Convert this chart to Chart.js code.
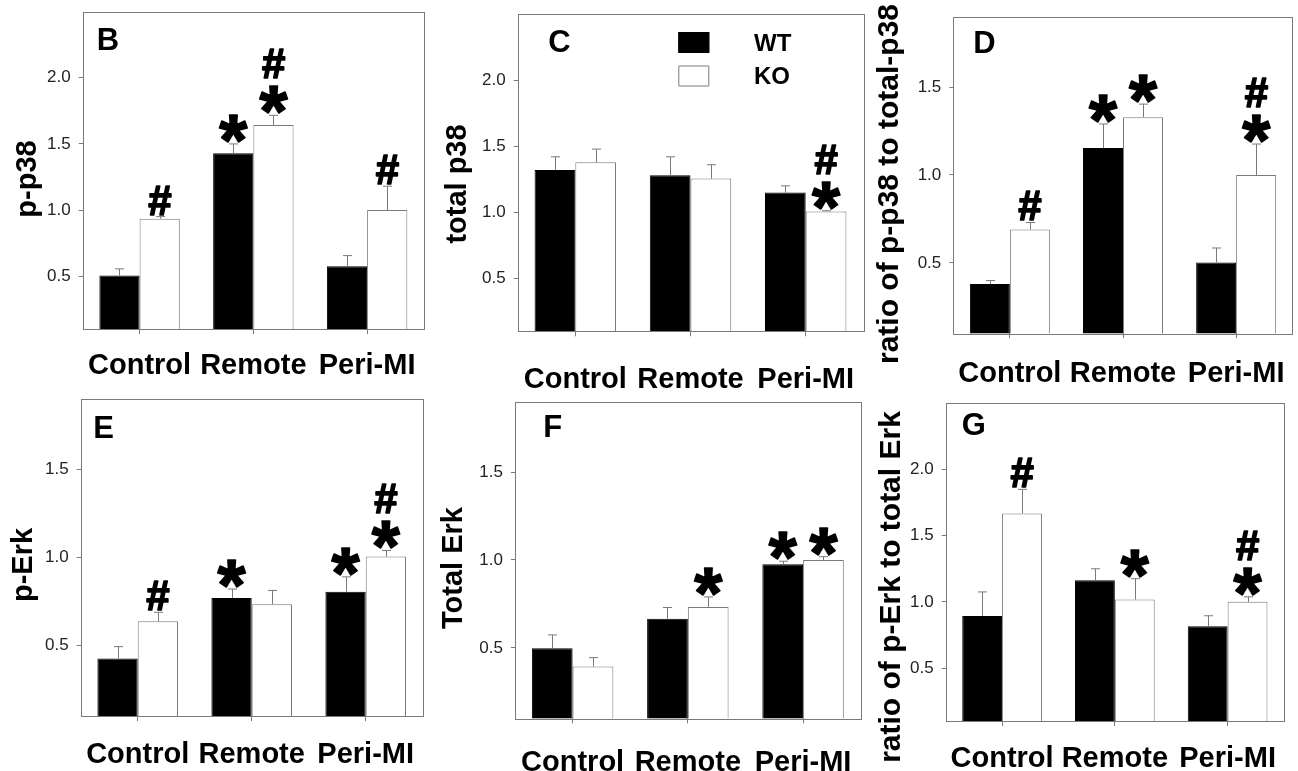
<!DOCTYPE html>
<html>
<head>
<meta charset="utf-8">
<script src="https://cdn.jsdelivr.net/npm/chart.js@4.4.1/dist/chart.umd.min.js"></script>
<style>
  html, body { margin: 0; padding: 0; background: #fff; }
  body { width: 1298px; height: 771px; position: relative; overflow: hidden; }
  canvas { position: absolute; }
</style>
</head>
<body>
<canvas id="cB" width="430" height="400" style="left:0;top:0"></canvas>
<canvas id="cC" width="436" height="400" style="left:430px;top:0"></canvas>
<canvas id="cD" width="432" height="400" style="left:866px;top:0"></canvas>
<canvas id="cE" width="430" height="391" style="left:0;top:380px"></canvas>
<canvas id="cF" width="436" height="391" style="left:430px;top:380px"></canvas>
<canvas id="cG" width="432" height="391" style="left:866px;top:380px"></canvas>
<script>
// ---- datos ----
const categorias = ['Control', 'Remote', 'Peri-MI'];
const grupos = ['WT', 'KO'];

const ticksAltos = [0.5, 1.0, 1.5, 2.0];   // B, C, G
const ticksBajos = [0.5, 1.0, 1.5];        // D, E, F

// B: p-p38
const pp38WT = [0.505, 1.43, 0.575];
const pp38WTErr = [0.05, 0.07, 0.08];
const pp38KO = [0.934, 1.643, 1.0];
const pp38KOErr = [0.016, 0.073, 0.18];
const pp38WTMarcas = ['', '*', ''];
const pp38KOMarcas = ['#', '*#', '#'];

// C: total p38
const tp38WT = [1.32, 1.28, 1.15];
const tp38WTErr = [0.10, 0.14, 0.05];
const tp38KO = [1.378, 1.255, 1.007];
const tp38KOErr = [0.10, 0.105, 0.005];
const tp38WTMarcas = ['', '', ''];
const tp38KOMarcas = ['', '', '*#'];

// D: ratio p-p38 / total-p38
const rp38WT = [0.38, 1.153, 0.502];
const rp38WTErr = [0.02, 0.137, 0.083];
const rp38KO = [0.69, 1.329, 1.0];
const rp38KOErr = [0.04, 0.074, 0.176];
const rp38WTMarcas = ['', '*', ''];
const rp38KOMarcas = ['#', '*', '*#'];

// E: p-Erk
const perkWT = [0.426, 0.770, 0.805];
const perkWTErr = [0.068, 0.051, 0.085];
const perkKO = [0.638, 0.734, 1.005];
const perkKOErr = [0.051, 0.079, 0.035];
const perkWTMarcas = ['', '*', '*'];
const perkKOMarcas = ['#', '', '*#'];

// F: Total Erk
const terkWT = [0.498, 0.666, 0.976];
const terkWTErr = [0.076, 0.064, 0.017];
const terkKO = [0.394, 0.733, 1.0];
const terkKOErr = [0.051, 0.057, 0.019];
const terkWTMarcas = ['', '', '*'];
const terkKOMarcas = ['', '*', '*'];

// G: ratio p-Erk / total Erk
const rerkWT = [0.894, 1.163, 0.816];
const rerkWTErr = [0.181, 0.087, 0.079];
const rerkKO = [1.668, 1.017, 1.0];
const rerkKOErr = [0.182, 0.158, 0.038];
const rerkWTMarcas = ['', '', ''];
const rerkKOMarcas = ['#', '*', '*#'];

// ---- estilos ----
const FUENTE = '"Liberation Sans", Arial, Helvetica, sans-serif';
const GRIS = '#7a7a7a';
const TAM_ASTERISCO = 72;
const TAM_NUMERAL = 42;
const ANCHO_Y = 50;

// Dibuja caja, barras de error, asteriscos/numerales, letra, título Y y leyenda.
const extrasPanel = {
  id: 'extrasPanel',
  afterDatasetsDraw(chart) {
    const ctx = chart.ctx;
    const y = chart.scales.y;
    ctx.save();
    ctx.strokeStyle = GRIS;
    ctx.lineWidth = 1;
    chart.data.datasets.forEach((ds, i) => {
      chart.getDatasetMeta(i).data.forEach((barra, j) => {
        const x = Math.round(barra.x) + 0.5;
        const arriba = y.getPixelForValue(ds.data[j] + ds.errores[j]);
        ctx.beginPath();
        ctx.moveTo(x, barra.y);
        ctx.lineTo(x, arriba);
        ctx.moveTo(x - 4.5, arriba);
        ctx.lineTo(x + 4.5, arriba);
        ctx.stroke();
      });
    });
    ctx.restore();
  },
  afterDraw(chart, args, op) {
    const ctx = chart.ctx;
    const a = chart.chartArea;
    const y = chart.scales.y;
    ctx.save();
    ctx.strokeStyle = GRIS;
    ctx.lineWidth = 1;
    ctx.strokeRect(Math.round(a.left) + 0.5, Math.round(a.top) + 0.5,
      Math.round(a.right - a.left), Math.round(a.bottom - a.top));

    // marcas de significancia, apiladas de abajo hacia arriba
    ctx.fillStyle = '#000';
    ctx.strokeStyle = '#000';
    ctx.lineWidth = 1.6;
    ctx.lineJoin = 'round';
    ctx.textAlign = 'left';
    ctx.textBaseline = 'alphabetic';
    chart.data.datasets.forEach((ds, i) => {
      chart.getDatasetMeta(i).data.forEach((barra, j) => {
        let base = y.getPixelForValue(ds.data[j] + ds.errores[j]) - 2;
        for (const s of ds.marcas[j].split('')) {
          ctx.font = `bold ${s === '*' ? TAM_ASTERISCO : TAM_NUMERAL}px ${FUENTE}`;
          const m = ctx.measureText(s);
          const anchoG = m.actualBoundingBoxRight + m.actualBoundingBoxLeft;
          const x0 = barra.x - anchoG / 2 + m.actualBoundingBoxLeft;
          const linea = base - m.actualBoundingBoxDescent;
          ctx.fillText(s, x0, linea);
          ctx.strokeText(s, x0, linea);
          base = linea - m.actualBoundingBoxAscent - 8;
        }
      });
    });

    // letra del panel
    ctx.font = `bold 31px ${FUENTE}`;
    ctx.fillText(op.letra.texto, op.letra.x, op.letra.y);

    // título del eje Y
    ctx.save();
    ctx.translate(op.tituloY.x, op.tituloY.y);
    ctx.rotate(-Math.PI / 2);
    ctx.textAlign = 'center';
    ctx.textBaseline = 'middle';
    ctx.font = `bold ${op.tituloY.tam || 29}px ${FUENTE}`;
    ctx.fillText(op.tituloY.texto, 0, 0);
    ctx.restore();

    // leyenda (solo en C)
    if (op.leyenda) {
      const L = op.leyenda;
      chart.data.datasets.forEach((ds, i) => {
        const top = L.y + i * L.paso;
        ctx.fillStyle = ds.backgroundColor;
        ctx.fillRect(L.x, top, 31, 21);
        ctx.lineWidth = 1;
        ctx.strokeStyle = i === 0 ? '#000' : GRIS;
        ctx.strokeRect(L.x + 0.5, top + 0.5, 30, 20);
        ctx.fillStyle = '#000';
        ctx.font = `bold 24px ${FUENTE}`;
        ctx.textBaseline = 'middle';
        ctx.fillText(ds.label, L.xTexto, top + 12);
      });
    }
    ctx.restore();
  }
};

function armarPanel(id, cfg) {
  const c = document.getElementById(id);
  const W = c.width, H = c.height;
  const r = cfg.area;
  const altoX = H - r.b;   // el eje X llega hasta el borde del canvas (las etiquetas se recortan a su caja)
  return new Chart(c, {
    type: 'bar',
    data: {
      labels: categorias,
      datasets: [
        { label: grupos[0], data: cfg.wt, errores: cfg.wtErr, marcas: cfg.wtMarcas,
          backgroundColor: '#000', borderColor: '#000', borderWidth: 1 },
        { label: grupos[1], data: cfg.ko, errores: cfg.koErr, marcas: cfg.koMarcas,
          backgroundColor: '#fff', borderColor: GRIS, borderWidth: 1 }
      ]
    },
    options: {
      responsive: false,
      devicePixelRatio: 1,
      animation: false,
      categoryPercentage: 0.707,
      barPercentage: 1.0,
      layout: { padding: { left: r.l - ANCHO_Y, top: r.t, right: W - r.r, bottom: 0 } },
      plugins: {
        legend: { display: false },
        tooltip: { enabled: false },
        extrasPanel: { letra: cfg.letra, tituloY: cfg.tituloY, leyenda: cfg.leyenda }
      },
      scales: {
        x: {
          offset: true,
          border: { display: false },
          grid: { offset: false, drawOnChartArea: false, tickLength: 5, color: GRIS },
          ticks: { color: '#000', padding: cfg.padX, maxRotation: 0, autoSkip: false,
                   font: { family: FUENTE, size: 29, weight: 'bold' } },
          afterFit: s => { s.height = altoX; s.paddingLeft = 0; s.paddingRight = 0; }
        },
        y: {
          min: cfg.min, max: cfg.max,
          border: { display: false },
          grid: { drawOnChartArea: false, tickLength: 4, color: GRIS },
          ticks: { color: '#222', padding: 8, font: { family: FUENTE, size: 17 },
                   callback: v => v.toFixed(1) },
          afterBuildTicks: s => { s.ticks = cfg.ticks.map(v => ({ value: v })); },
          afterFit: s => { s.width = ANCHO_Y; s.paddingTop = 0; s.paddingBottom = 0; }
        }
      }
    },
    plugins: [extrasPanel]
  });
}

armarPanel('cB', {
  wt: pp38WT, wtErr: pp38WTErr, wtMarcas: pp38WTMarcas,
  ko: pp38KO, koErr: pp38KOErr, koMarcas: pp38KOMarcas,
  min: 0.1, max: 2.5, ticks: ticksAltos, padX: 15,
  area: { l: 82.7, t: 11.7, r: 424, b: 329 },
  letra: { texto: 'B', x: 96.7, y: 50 },
  tituloY: { texto: 'p-p38', x: 28, y: 179 }
});
armarPanel('cC', {
  wt: tp38WT, wtErr: tp38WTErr, wtMarcas: tp38WTMarcas,
  ko: tp38KO, koErr: tp38KOErr, koMarcas: tp38KOMarcas,
  min: 0.1, max: 2.5, ticks: ticksAltos, padX: 26,
  area: { l: 87.7, t: 14, r: 433.3, b: 331.3 },
  letra: { texto: 'C', x: 118.3, y: 51.7 },
  tituloY: { texto: 'total p38', x: 27.5, y: 184 },
  leyenda: { x: 248.3, y: 32, paso: 33.5, xTexto: 324 }
});
armarPanel('cD', {
  wt: rp38WT, wtErr: rp38WTErr, wtMarcas: rp38WTMarcas,
  ko: rp38KO, koErr: rp38KOErr, koMarcas: rp38KOMarcas,
  min: 0.1, max: 1.9, ticks: ticksBajos, padX: 18,
  area: { l: 87.3, t: 16.7, r: 426.7, b: 333.3 },
  letra: { texto: 'D', x: 107.3, y: 53.3 },
  tituloY: { texto: 'ratio of p-p38 to total-p38', x: 24, y: 184, tam: 30 }
});
armarPanel('cE', {
  wt: perkWT, wtErr: perkWTErr, wtMarcas: perkWTMarcas,
  ko: perkKO, koErr: perkKOErr, koMarcas: perkKOMarcas,
  min: 0.1, max: 1.9, ticks: ticksBajos, padX: 17,
  area: { l: 80.7, t: 19, r: 422.7, b: 336 },
  letra: { texto: 'E', x: 93.3, y: 58.3 },
  tituloY: { texto: 'p-Erk', x: 24, y: 185 }
});
armarPanel('cF', {
  wt: terkWT, wtErr: terkWTErr, wtMarcas: terkWTMarcas,
  ko: terkKO, koErr: terkKOErr, koMarcas: terkKOMarcas,
  min: 0.1, max: 1.9, ticks: ticksBajos, padX: 22,
  area: { l: 85, t: 21.7, r: 430.7, b: 338.3 },
  letra: { texto: 'F', x: 113.3, y: 56.7 },
  tituloY: { texto: 'Total Erk', x: 24, y: 188 }
});
armarPanel('cG', {
  wt: rerkWT, wtErr: rerkWTErr, wtMarcas: rerkWTMarcas,
  ko: rerkKO, koErr: rerkKOErr, koMarcas: rerkKOMarcas,
  min: 0.1, max: 2.5, ticks: ticksAltos, padX: 16,
  area: { l: 79.7, t: 23.3, r: 418, b: 341 },
  letra: { texto: 'G', x: 95.7, y: 55 },
  tituloY: { texto: 'ratio of p-Erk to total Erk', x: 25.7, y: 207, tam: 30 }
});
</script>
</body>
</html>
